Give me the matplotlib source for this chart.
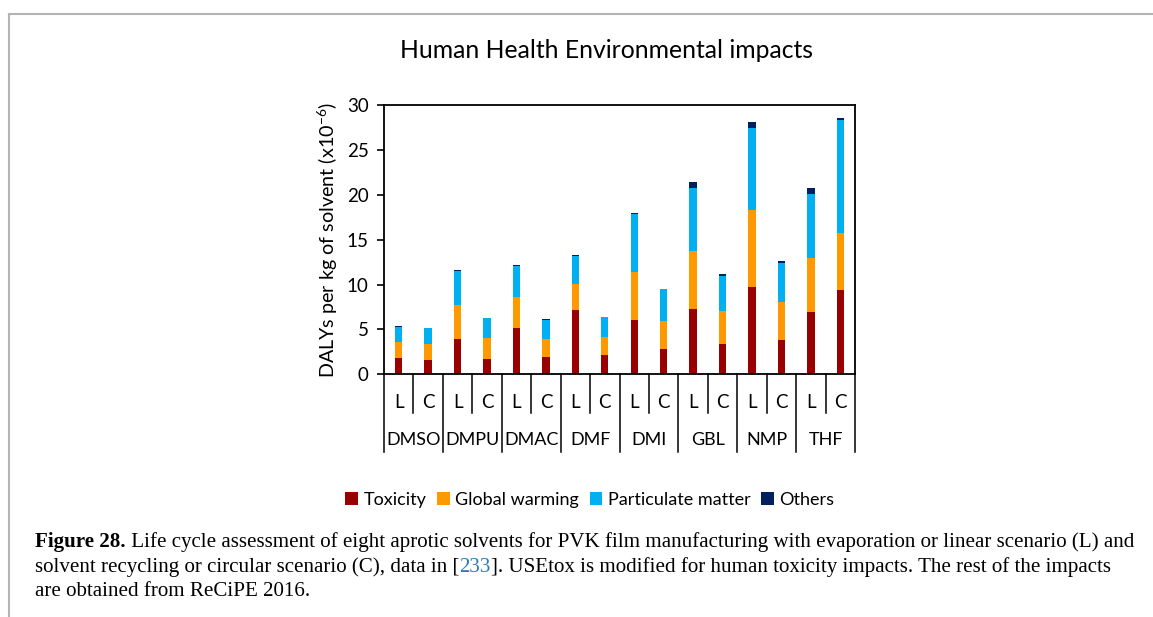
import numpy as np
import matplotlib
matplotlib.use('Agg')
import matplotlib.pyplot as plt
import matplotlib.transforms as mtransforms

#%% data
solvents = ['DMSO', 'DMPU', 'DMAC', 'DMF', 'DMI', 'GBL', 'NMP', 'THF']
scenarios = ['L', 'C']
toxicity = [1.86, 1.63, 3.97, 1.71, 5.20, 1.93, 7.13, 2.15,
            6.09, 2.78, 7.32, 3.34, 9.73, 3.86, 6.91, 9.39]
global_warming = [1.78, 1.71, 3.75, 2.34, 3.41, 2.04, 2.97, 2.01,
                  5.27, 3.16, 6.42, 3.68, 8.61, 4.20, 6.05, 6.39]
particulate = [1.67, 1.82, 3.75, 2.19, 3.49, 2.12, 3.12, 2.19,
               6.50, 3.53, 7.06, 3.93, 9.10, 4.34, 7.13, 12.55]
others = [0.05, 0.05, 0.15, 0.05, 0.10, 0.05, 0.11, 0.05,
          0.11, 0.05, 0.63, 0.23, 0.67, 0.23, 0.67, 0.26]
yticks = [0, 5, 10, 15, 20, 25, 30]

series = [('Toxicity', toxicity, '#990000'),
          ('Global warming', global_warming, '#FF9900'),
          ('Particulate matter', particulate, '#00B0F0'),
          ('Others', others, '#002060')]

plt.rcParams['font.family'] = ['Lato', 'DejaVu Sans']
plt.rcParams['mathtext.fontset'] = 'custom'
plt.rcParams['mathtext.rm'] = 'Lato'

W, H = 1153, 617
fig = plt.figure(figsize=(W / 100, H / 100), dpi=100)

# page frame
fig.add_artist(plt.Line2D([9 / W, 9 / W], [0, 1 - 14 / H], color='#b4b4b4', lw=1.5))
fig.add_artist(plt.Line2D([9 / W, 1], [1 - 14 / H, 1 - 14 / H], color='#b4b4b4', lw=1.5))

x0, x1, y0, y1 = 384, 855, 374.3, 105
ax = fig.add_axes([x0 / W, 1 - y0 / H, (x1 - x0) / W, (y0 - y1) / H])

n = len(toxicity)
x = np.arange(n)
bottom = np.zeros(n)
for name, vals, col in series:
    ax.bar(x, vals, 0.25, bottom=bottom, color=col, label=name)
    bottom += np.array(vals)

ax.set_xlim(-0.5, n - 0.5)
ax.set_ylim(0, 30)
ax.set_yticks(yticks)
ax.tick_params(axis='y', direction='out', length=5, width=1.2, labelsize=13.5, pad=6)
ax.set_xticks([])
for s in ax.spines.values():
    s.set_linewidth(1.3)
ax.set_ylabel(r'DALYs per kg of solvent (x10$^{-6}$)', fontsize=14.2, labelpad=5)

# two-level category axis
tr = mtransforms.blended_transform_factory(ax.transData, ax.transAxes)
for i in range(n + 1):
    xb = i - 0.5
    depth = -0.288 if i % 2 == 0 else -0.144
    ax.plot([xb, xb], [0, depth], color='black', lw=1.1, transform=tr, clip_on=False)
for i in range(n):
    ax.text(i, -0.103, scenarios[i % 2], transform=tr, ha='center', va='center', fontsize=13.5)
for j, name in enumerate(solvents):
    ax.text(2 * j + 0.5, -0.244, name, transform=tr, ha='center', va='center', fontsize=13)

fig.text(607 / W, 1 - 51 / H, 'Human Health Environmental impacts', ha='center', va='center', fontsize=17.8)

handles, labels = ax.get_legend_handles_labels()
fig.legend(handles, labels, loc='center', bbox_to_anchor=(590 / W, 1 - 500 / H), ncol=4,
           frameon=False, fontsize=13, handlelength=0.7, handleheight=0.7,
           handletextpad=0.3, columnspacing=0.6)

#%% caption
fig.canvas.draw()
rend = fig.canvas.get_renderer()
cap = [[('Figure 28.', 'bold', 'black'),
        (' Life cycle assessment of eight aprotic solvents for PVK film manufacturing with evaporation or linear scenario (L) and', 'normal', 'black')],
       [('solvent recycling or circular scenario (C), data in [', 'normal', 'black'),
        ('233', 'normal', '#2b7bb9'),
        ('].  USEtox is modified for human toxicity impacts. The rest of the impacts'.replace('  ', ' '), 'normal', 'black')],
       [('are obtained from ReCiPE 2016.', 'normal', 'black')]]
for k, line in enumerate(cap):
    xp = 35
    yp = 542 + 25 * k
    for txt, wt, col in line:
        t = fig.text(xp / W, 1 - yp / H, txt, ha='left', va='center', fontsize=15.1,
                     family='Liberation Serif', weight=wt, color=col)
        xp += t.get_window_extent(rend).width

fig.savefig('out.png', dpi=100)
